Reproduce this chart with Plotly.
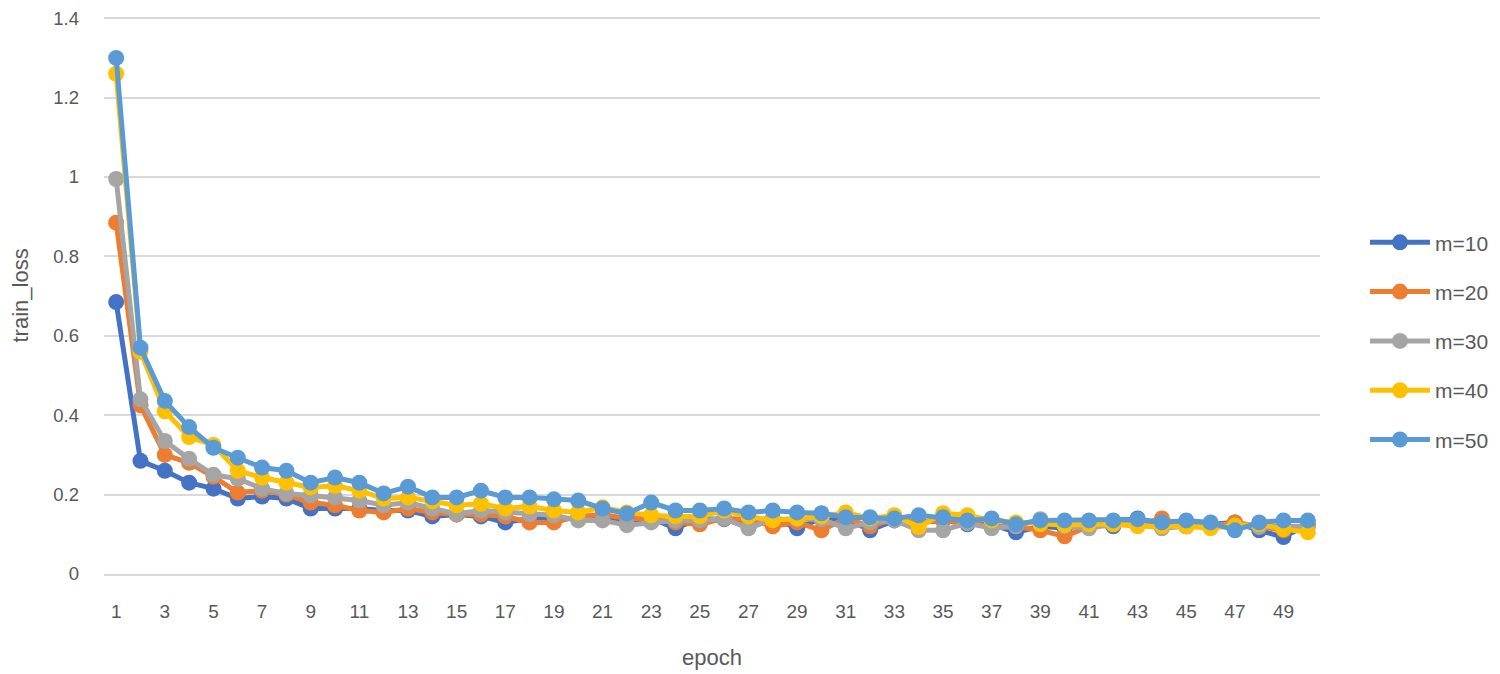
import plotly.graph_objects as go

epochs = list(range(1, 51))

m10 = [0.685, 0.285, 0.26, 0.23, 0.215, 0.19, 0.195, 0.19, 0.165, 0.165,
       0.165, 0.16, 0.16, 0.145, 0.15, 0.145, 0.13, 0.14, 0.14, 0.14,
       0.145, 0.135, 0.14, 0.115, 0.14, 0.138, 0.135, 0.14, 0.115, 0.14,
       0.14, 0.11, 0.135, 0.13, 0.135, 0.125, 0.125, 0.105, 0.12, 0.115,
       0.125, 0.12, 0.14, 0.125, 0.12, 0.125, 0.13, 0.11, 0.093, 0.125]
m20 = [0.885, 0.425, 0.30, 0.28, 0.245, 0.205, 0.21, 0.2, 0.18, 0.173,
       0.16, 0.155, 0.165, 0.155, 0.15, 0.15, 0.145, 0.13, 0.13, 0.145,
       0.15, 0.14, 0.14, 0.13, 0.125, 0.14, 0.138, 0.12, 0.13, 0.11,
       0.14, 0.12, 0.138, 0.13, 0.135, 0.13, 0.12, 0.12, 0.11, 0.095,
       0.12, 0.125, 0.125, 0.14, 0.12, 0.12, 0.13, 0.12, 0.11, 0.12]
m30 = [0.995, 0.44, 0.335, 0.29, 0.25, 0.24, 0.215, 0.203, 0.198, 0.193,
       0.185, 0.173, 0.18, 0.165, 0.152, 0.16, 0.155, 0.15, 0.148, 0.135,
       0.135, 0.123, 0.13, 0.135, 0.135, 0.14, 0.115, 0.138, 0.138, 0.138,
       0.115, 0.13, 0.135, 0.11, 0.11, 0.128, 0.115, 0.12, 0.138, 0.12,
       0.115, 0.125, 0.125, 0.115, 0.12, 0.12, 0.12, 0.118, 0.12, 0.12]
m40 = [1.26, 0.56, 0.41, 0.345, 0.325, 0.26, 0.243, 0.23, 0.218, 0.222,
       0.21, 0.19, 0.193, 0.183, 0.173, 0.177, 0.165, 0.17, 0.16, 0.155,
       0.168, 0.155, 0.148, 0.145, 0.145, 0.16, 0.145, 0.135, 0.14, 0.145,
       0.155, 0.14, 0.148, 0.118, 0.153, 0.148, 0.135, 0.13, 0.125, 0.123,
       0.125, 0.125, 0.12, 0.12, 0.12, 0.115, 0.122, 0.125, 0.113, 0.105]
m50 = [1.30, 0.57, 0.436, 0.37, 0.318, 0.293, 0.268, 0.26, 0.23, 0.243,
       0.23, 0.203, 0.22, 0.193, 0.193, 0.21, 0.193, 0.193, 0.188, 0.185,
       0.165, 0.152, 0.18, 0.16, 0.16, 0.165, 0.155, 0.16, 0.155, 0.153,
       0.143, 0.143, 0.14, 0.148, 0.143, 0.135, 0.14, 0.125, 0.135, 0.135,
       0.135, 0.135, 0.138, 0.13, 0.135, 0.13, 0.11, 0.13, 0.135, 0.135]

names = ["m=10", "m=20", "m=30", "m=40", "m=50"]
series = [m10, m20, m30, m40, m50]
colors = ["#4472C4", "#ED7D31", "#A5A5A5", "#FFC000", "#5B9BD5"]

y_ticks = [0, 0.2, 0.4, 0.6, 0.8, 1, 1.2, 1.4]
y_labels = ["0", "0.2", "0.4", "0.6", "0.8", "1", "1.2", "1.4"]
x_ticks = list(range(1, 51, 2))

fig = go.Figure()
for name, ys, c in zip(names, series, colors):
    fig.add_trace(go.Scatter(
        x=epochs, y=ys, name=name, mode="lines+markers",
        line=dict(color=c, width=5),
        marker=dict(color=c, size=16),
        legendgroup=name,
    ))

fig.update_layout(
    width=1492, height=666,
    paper_bgcolor="white", plot_bgcolor="white",
    margin=dict(l=96, r=180, t=9, b=100, autoexpand=False),
    font=dict(family="Liberation Sans, Arial, sans-serif", color="#595959", size=18),
    showlegend=True,
    legend=dict(
        x=1.037, y=0.418, xanchor="left", yanchor="middle",
        font=dict(size=21, color="#595959"),
        tracegroupgap=19, traceorder="grouped", itemwidth=60,
        bgcolor="rgba(0,0,0,0)",
    ),
    xaxis=dict(
        range=[0.5, 50.5], tickmode="array",
        tickvals=x_ticks, ticktext=[str(v) for v in x_ticks],
        showgrid=False, showline=True, linecolor="#D9D9D9", linewidth=1.5,
        ticks="", tickfont=dict(size=19, color="#595959"), zeroline=False,
        automargin=False, ticklabelstandoff=19,
    ),
    yaxis=dict(
        range=[0, 1.403], tickmode="array", tickvals=y_ticks, ticktext=y_labels,
        showgrid=True, gridcolor="#D9D9D9", gridwidth=1.5,
        zeroline=False, showline=False, ticks="",
        tickfont=dict(size=18.5, color="#595959"),
        automargin=False, ticklabelstandoff=24, ticklabeloverflow="allow",
    ),
    annotations=[
        dict(text="epoch", xref="paper", yref="paper", x=0.5, y=0,
             yshift=-83, xanchor="center", yanchor="middle", showarrow=False,
             font=dict(size=22, color="#595959")),
        dict(text="train_loss", xref="paper", yref="paper", x=0, y=0.5,
             xshift=-84, xanchor="center", yanchor="middle", showarrow=False,
             textangle=-90, font=dict(size=22, color="#595959")),
    ],
)

fig.write_html("out.html")
